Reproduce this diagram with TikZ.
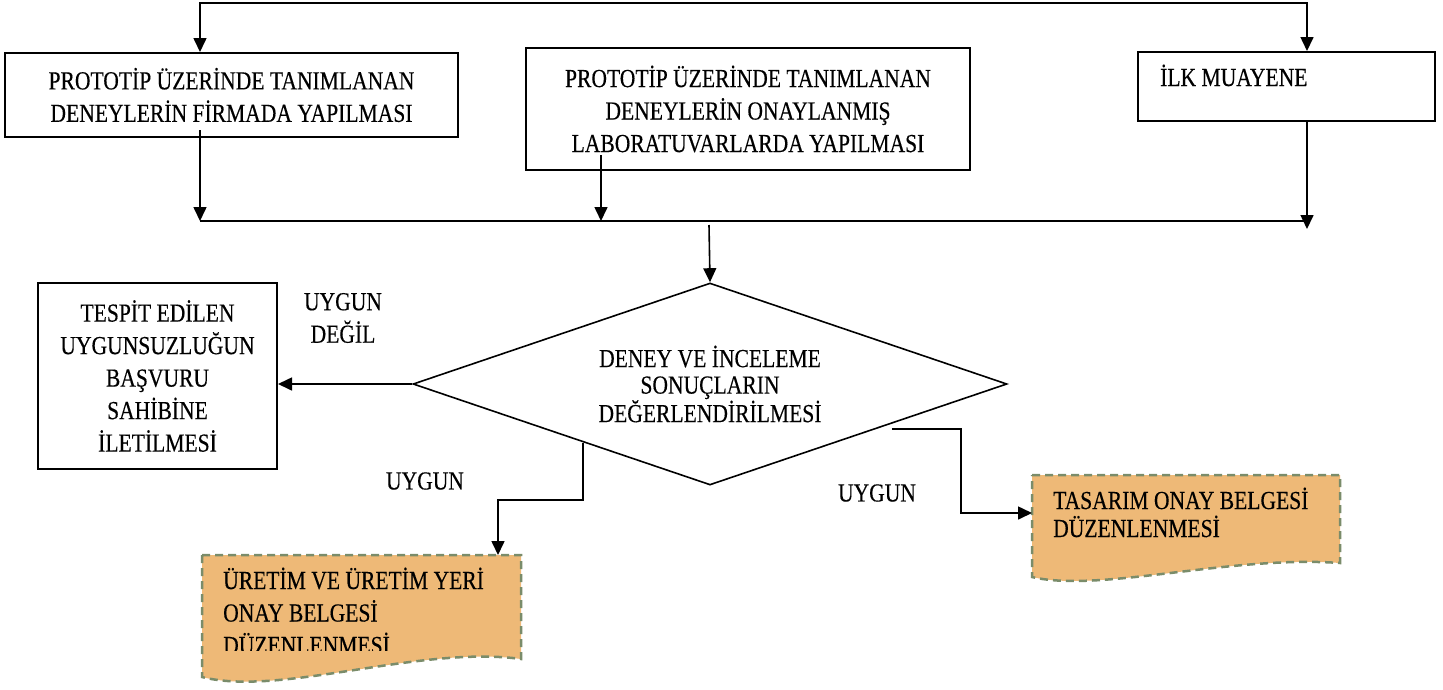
\documentclass[tikz,border=0pt]{standalone}
\usepackage{fontspec}
\setmainfont{Liberation Serif}[FakeStretch=0.83, RawFeature={embolden=0.3}]
\usetikzlibrary{arrows.meta,shapes.geometric}
\definecolor{docfill}{HTML}{EEB977}
\definecolor{docline}{HTML}{7A8C6A}
\begin{document}
\begin{tikzpicture}[x=1pt,y=-1pt,
  every node/.style={font=\fontsize{26}{32.5}\selectfont},
  box/.style={draw, line width=2pt, inner sep=0pt, align=center},
  conn/.style={line width=1.6pt},
  arr/.style={conn, -{Triangle[length=14pt,width=13pt]}},
  arrtwo/.style={conn, {Triangle[length=14pt,width=13pt]}-{Triangle[length=14pt,width=13pt]}},
  doc/.style={fill=docfill, draw=docline, line width=2.5pt, dash pattern=on 8pt off 5pt},
  lbl/.style={inner sep=0pt, align=center}]
\useasboundingbox (0,0) rectangle (1443,689);

% boxes
\node[box, minimum width=453pt, minimum height=84pt] (b1) at (231.5,95)
  {PROTOTİP ÜZERİNDE TANIMLANAN\\DENEYLERİN FİRMADA YAPILMASI};
\node[box, minimum width=444pt, minimum height=122pt] (b2) at (748,109)
  {PROTOTİP ÜZERİNDE TANIMLANAN\\DENEYLERİN ONAYLANMIŞ\\LABORATUVARLARDA YAPILMASI};
\node[box, minimum width=297pt, minimum height=69pt] (b3) at (1286.5,86.5) {};
\node[lbl, anchor=base west] (t3) at (1160,86) {İLK MUAYENE};
\node[box, minimum width=239pt, minimum height=186pt] (fail) at (157.5,376)
  {TESPİT EDİLEN\\UYGUNSUZLUĞUN\\BAŞVURU\\SAHİBİNE\\İLETİLMESİ};
\node[diamond, draw, line width=1.6pt, aspect=2.94, minimum width=594pt, minimum height=202pt,
  inner sep=0pt, align=center, font=\fontsize{26}{26.5}\selectfont] (dia) at (710,384)
  {DENEY VE İNCELEME\\SONUÇLARIN\\DEĞERLENDİRİLMESİ};

% labels
\node[lbl] (ud) at (343,318) {UYGUN\\DEĞİL};
\node[lbl] (u1) at (425,481) {UYGUN};
\node[lbl] (u2) at (877,493) {UYGUN};

% documents
\path[doc] (202,555) coordinate (d1nw) -- (521,555) -- (521,659)
  .. controls (420,645) and (280,697) .. (202,677) -- cycle;
\begin{scope}
  \clip (200,555) rectangle (525,650);
  \node[lbl, anchor=base west, align=left] (d1t) at (223,654)
    {ÜRETİM VE ÜRETİM YERİ\\ONAY BELGESİ\\DÜZENLENMESİ};
\end{scope}
\path[doc] (1032,475) -- (1340,475) -- (1340,563)
  .. controls (1230,555) and (1100,593) .. (1032,577) -- cycle;
\node[lbl, anchor=base west, align=left, font=\fontsize{26}{28}\selectfont] (d2t) at (1053,537)
  {TASARIM ONAY BELGESİ\\DÜZENLENMESİ};

% connectors
\coordinate (tl) at (200,3);
\coordinate (tr) at (1307,3);
\draw[arrtwo] (tl |- b1.north) -- (tl) -- (tr) -- (tr |- b3.north);
\coordinate (jl) at (200,221);
\coordinate (j2) at (601,221);
\coordinate (jr) at (1307,221);
\draw[line width=2pt] (jl) -- (jr);
\coordinate (b1s) at (200,130);
\draw[arr] (b1s) -- (jl);
\coordinate (b2s) at (601,155);
\draw[arr] (b2s) -- (j2);
\coordinate (j3) at (1307,229);
\draw[arr] (tr |- b3.south) -- (j3);
\coordinate (jd) at (709,225);
\draw[arr] (jd) -- (dia.north);
\draw[arr] (dia.west) -- (dia.west -| fail.east);
\coordinate (c1) at (583,443);
\coordinate (c2) at (498,500);
\draw[arr] (c1) |- (c2) -- (c2 |- d1nw);
\coordinate (c3) at (892,429);
\coordinate (c4) at (961,513);
\coordinate (d2w) at (1032,513);
\draw[arr] (c3) -| (c4) -- (d2w);
\end{tikzpicture}
\end{document}
